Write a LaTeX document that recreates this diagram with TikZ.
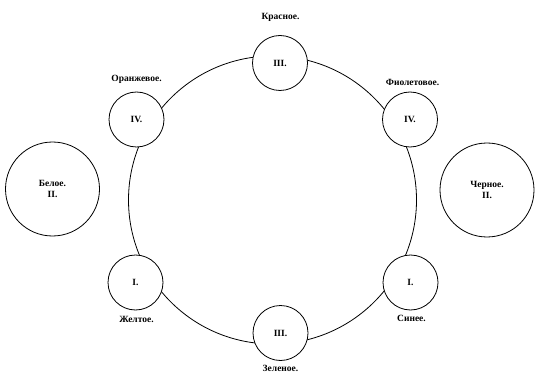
\documentclass[tikz,border=0pt]{standalone}
\usepackage{fontspec}
\setmainfont{Liberation Serif}
\begin{document}
\begin{tikzpicture}[x=1pt,y=-1pt,
  txt/.style={font=\bfseries\fontsize{9.5}{11.5}\selectfont},
  lbl/.style={txt, inner sep=0pt},
  sm/.style={circle, draw, line width=0.8pt, fill=white, minimum size=55pt, inner sep=0pt, txt},
  bg/.style={circle, draw, line width=0.8pt, fill=white, minimum size=94pt, inner sep=0pt, align=center, txt}]
\useasboundingbox (0,0) rectangle (535,374);
\coordinate (rc) at (272.5,200);
\draw[line width=0.8pt] (rc) circle (144pt);
\node[sm] (red) at (280,63) {III.};
\node[sm] (orange) at (136.5,119.5) {IV.};
\node[sm] (violet) at (410,119.5) {IV.};
\node[sm] (yellow) at (135.5,282.5) {I.};
\node[sm] (blue) at (410.5,282.5) {I.};
\node[sm] (green) at (280.5,333) {III.};
\node[bg] (white) at (52.5,189) {Белое.\\II.};
\node[bg] (black) at (487,190) {Черное.\\II.};
\node[lbl] (lred) at (280.5,17) {Красное.};
\node[lbl] (lorange) at (136.5,79.5) {Оранжевое.};
\node[lbl] (lviolet) at (412.5,82) {Фиолетовое.};
\node[lbl] (lyellow) at (136.5,319) {Желтое.};
\node[lbl] (lblue) at (411.5,318.5) {Синее.};
\node[lbl] (lgreen) at (280.5,368) {Зеленое.};
\end{tikzpicture}
\end{document}
